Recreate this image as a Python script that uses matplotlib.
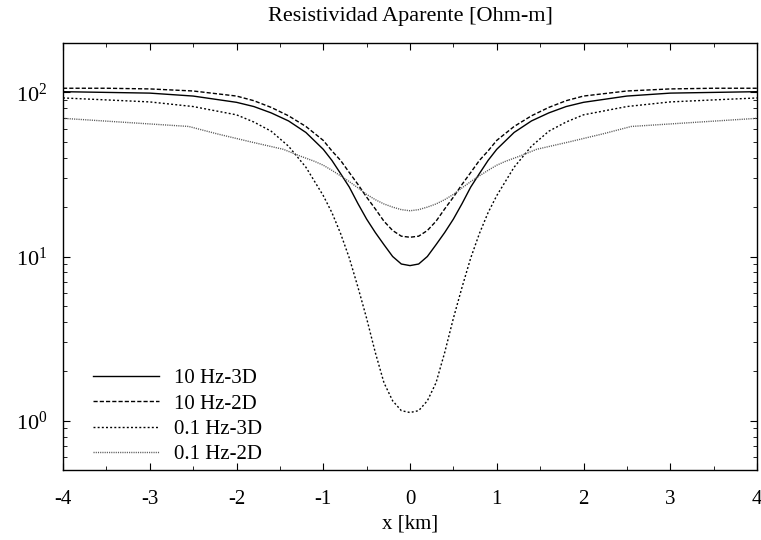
import matplotlib
matplotlib.use("Agg")
import matplotlib.pyplot as plt
from matplotlib.ticker import LogLocator, FixedLocator, NullFormatter
import numpy as np

plt.rcParams['font.family'] = ['Liberation Serif', 'DejaVu Serif']
plt.rcParams['mathtext.fontset'] = 'custom'
plt.rcParams['mathtext.rm'] = 'Liberation Serif'
plt.rcParams['mathtext.it'] = 'Liberation Serif:italic'
plt.rcParams['lines.scale_dashes'] = False

# mitad derecha del perfil (el perfil es simetrico en x)
x_half = [0.0, 0.1, 0.2, 0.3, 0.4, 0.5, 0.6, 0.7, 0.8, 0.9, 1.0,
          1.2, 1.4, 1.6, 1.8, 2.0, 2.5, 3.0, 3.5, 4.0]
rho_10hz_3d = [8.8, 9.0, 10.0, 11.8, 14.0, 16.9, 21, 26.5, 32, 38.5, 45,
               57, 67, 75, 82, 87, 95, 99, 100, 101]
rho_10hz_2d = [13.1, 13.3, 14.4, 16.4, 19.5, 23, 27.5, 32.5, 38.5, 44, 51,
               62, 72, 81, 89, 95, 102, 105, 106, 106]
rho_01hz_3d = [1.12, 1.15, 1.32, 1.7, 2.6, 4.2, 6.5, 9.8, 13.8, 18.5, 23.5,
               35, 47, 58, 66, 73, 82, 87.5, 90, 92.5]

x_half_2d = [0.0, 0.1, 0.2, 0.3, 0.4, 0.5, 0.6, 0.7, 0.8, 0.9, 1.0,
             1.1, 1.27, 1.46, 1.84, 2.23, 2.55, 4.0]
rho_01hz_2d = [19.0, 19.3, 20.0, 20.9, 22.2, 23.9, 26.2, 28.6, 31, 33.5, 36,
               38, 41, 45, 50, 56, 62, 69.5]

labels = ['10 Hz-3D', '10 Hz-2D', '0.1 Hz-3D', '0.1 Hz-2D']


def mirror(xs, ys):
    xs = np.array(xs)
    ys = np.array(ys)
    return (np.concatenate([-xs[:0:-1], xs]),
            np.concatenate([ys[:0:-1], ys]))


fig = plt.figure(figsize=(7.61, 5.40), dpi=100)
ax = fig.add_axes([63 / 761, 1 - 470 / 540, 694 / 761, 427 / 540])

xa, ya = mirror(x_half, rho_10hz_3d)
ax.plot(xa, ya, color='black', lw=1.0, label=labels[0])
xa, ya = mirror(x_half, rho_10hz_2d)
ax.plot(xa, ya, color='black', lw=1.0, linestyle=(0, (3.0, 1.5)), label=labels[1])
xa, ya = mirror(x_half, rho_01hz_3d)
ax.plot(xa, ya, color='black', lw=1.0, linestyle=(0, (1.4, 1.6)), label=labels[2])
xa, ya = mirror(x_half_2d, rho_01hz_2d)
ax.plot(xa, ya, color='0.35', lw=1.0, linestyle=(0, (0.8, 0.8)), label=labels[3])

ax.set_yscale('log')
ax.set_xlim(-4, 4)
ax.set_ylim(0.5, 200)

ax.xaxis.set_major_locator(FixedLocator(np.arange(-4, 5, 1)))
ax.xaxis.set_minor_locator(FixedLocator(np.arange(-3.5, 4, 1)))
ax.xaxis.set_major_formatter(plt.FuncFormatter(lambda v, p: '%d' % v))
ax.yaxis.set_major_locator(LogLocator(base=10, numticks=10))
ax.yaxis.set_minor_locator(LogLocator(base=10, subs=np.arange(2, 10), numticks=20))
ax.yaxis.set_minor_formatter(NullFormatter())

ax.tick_params(which='both', direction='in', top=True, right=True,
               labelsize=15, color='black')
ax.tick_params(which='major', length=5, width=0.8)
ax.tick_params(which='minor', length=3, width=0.6)
ax.tick_params(axis='x', which='major', pad=14.5)
ax.tick_params(axis='y', which='major', pad=11, labelsize=16)
for s in ax.spines.values():
    s.set_linewidth(1.0)

ax.set_title('Resistividad Aparente [Ohm-m]', fontsize=16, pad=16)
ax.set_xlabel('x [km]', fontsize=15, labelpad=3.5)

ax.legend(loc='lower left', bbox_to_anchor=(0.043, 0.013), frameon=False,
          fontsize=15, handlelength=3.17, handletextpad=0.72,
          labelspacing=0.28, borderpad=0, borderaxespad=0)

fig.savefig('out.png', dpi=100)
